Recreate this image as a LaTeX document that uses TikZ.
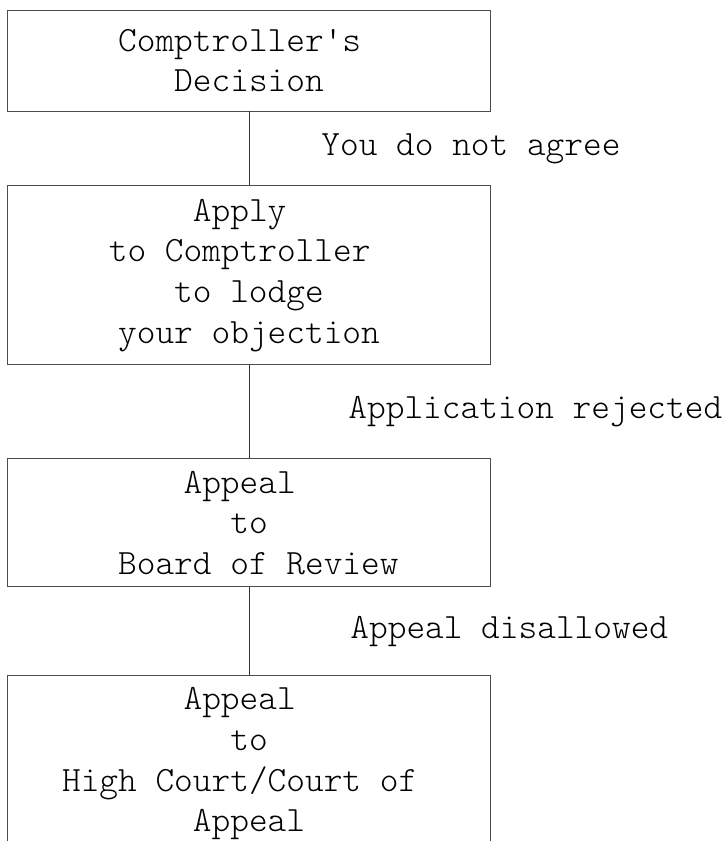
\documentclass[tikz,border=0pt]{standalone}
\usepackage{tikz}
\usetikzlibrary{positioning}

\newcommand{\flowfont}{\ttfamily\fontseries{l}\fontsize{35.6}{40.7}\selectfont}
\newcommand{\padch}{\hphantom{x}}

\begin{document}
\begin{tikzpicture}[x=1pt, y=-1pt, every edge/.style={draw=black!80,solid,line width=0.9pt},
                    stage/.style={draw=black!70, line width=0.9pt, minimum width=483pt,
                                  align=center, inner sep=0pt, font=\flowfont},
                    note/.style={inner sep=0pt, font=\flowfont}]

\clip (0,0) rectangle (725,841);

\node[stage, minimum height=101pt] (decision) at (249,60.5) {Comptroller\textquotesingle s\padch\\Decision};
\node[stage, minimum height=179pt, below=74pt of decision] (apply) {Apply\padch\\to Comptroller\padch\\to lodge\\your objection};
\node[stage, minimum height=128pt, below=93pt of apply] (board) {Appeal\padch\\to\\\padch Board of Review};
\node[stage, minimum height=176pt, below=88pt of board] (court) {Appeal\padch\\to\\High Court/Court of\padch\\Appeal};

\path
(decision) edge node[note, right=72pt] {You do not agree} (apply)
(apply) edge node[note, right=99pt] {Application rejected} (board)
(board) edge node[note, right=101pt] {Appeal disallowed} (court);
\end{tikzpicture}
\end{document}
